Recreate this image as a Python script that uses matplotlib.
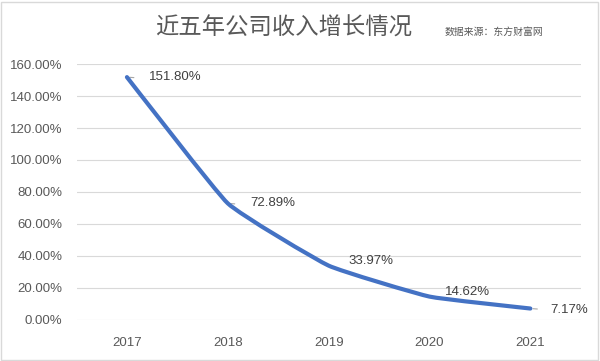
import matplotlib
matplotlib.use("Agg")
import matplotlib.pyplot as plt
from matplotlib.path import Path
from matplotlib.patches import PathPatch, Rectangle
import numpy as np

plt.rcParams['font.family'] = ['Liberation Sans', 'Noto Sans CJK SC', 'DejaVu Sans']

years = ["2017", "2018", "2019", "2020", "2021"]
growth = [1.518, 0.7289, 0.3397, 0.1462, 0.0717]
labels = ["151.80%", "72.89%", "33.97%", "14.62%", "7.17%"]
yticks = [0.0, 0.2, 0.4, 0.6, 0.8, 1.0, 1.2, 1.4, 1.6]
title = "近五年公司收入增长情况"
source = "数据来源：东方财富网"

fig = plt.figure(figsize=(6, 3.61), dpi=100)
ax = fig.add_axes([0.1275, 0.1136, 0.968 - 0.1275, 0.8227 - 0.1136])

x = np.arange(len(years))
ax.set_xlim(-0.5, len(years) - 0.5)
ax.set_ylim(0, 1.6)

# mildly smoothed line (Bezier segments built from the data points)
verts = [(x[0], growth[0])]
codes = [Path.MOVETO]
t = 0.06
for i in range(len(x) - 1):
    p0 = np.array([x[max(i-1, 0)], growth[max(i-1, 0)]])
    p1 = np.array([x[i], growth[i]])
    p2 = np.array([x[i+1], growth[i+1]])
    p3 = np.array([x[min(i+2, len(x)-1)], growth[min(i+2, len(x)-1)]])
    c1 = p1 + (p2 - p0) * t
    c2 = p2 - (p3 - p1) * t
    verts += [tuple(c1), tuple(c2), tuple(p2)]
    codes += [Path.CURVE4] * 3
ax.add_patch(PathPatch(Path(verts, codes), facecolor='none', edgecolor='#4472C4',
                       lw=3.0, capstyle='round', joinstyle='round', zorder=3))

ax.set_yticks(yticks)
ax.set_yticklabels([f"{v*100:.2f}%" for v in yticks])
ax.set_xticks(x)
ax.set_xticklabels(years)
ax.tick_params(length=0, colors='#595959', labelsize=9.5, pad=10)
ax.tick_params(axis='x', pad=12)
ax.grid(axis='y', color='#D9D9D9', lw=0.8)
ax.set_axisbelow(True)
for s in ax.spines.values():
    s.set_visible(False)

offsets = [(16, 0), (16, 0), (14, 3), (11, 3.5), (14.5, -1)]
for xi, yi, lab, off in zip(x, growth, labels, offsets):
    ax.annotate(lab, (xi, yi), xytext=off, textcoords='offset points',
                ha='left', va='center', fontsize=9.5, color='#404040', zorder=4)
for xi, yi in [(x[0], growth[0]), (x[1], growth[1]), (x[4], growth[4])]:
    ax.annotate("", (xi, yi), xytext=(7, -0.5), textcoords='offset points',
                arrowprops=dict(arrowstyle='-', color='#A6A6A6', lw=0.8), zorder=2)

fig.text(0.4725, 0.922, title, ha='center', va='center', fontsize=16.8, color='#595959',
         family=['Noto Sans CJK SC', 'DejaVu Sans'])
fig.text(0.741, 0.911, source, ha='left', va='center', fontsize=7.1, color='#595959',
         family=['Noto Sans CJK SC', 'DejaVu Sans'])

fig.patches.append(Rectangle((0.002, 0.003), 0.995, 0.992, transform=fig.transFigure,
                             fill=False, edgecolor='#D9D9D9', lw=1))

fig.savefig("out.png", dpi=100, facecolor='white')
